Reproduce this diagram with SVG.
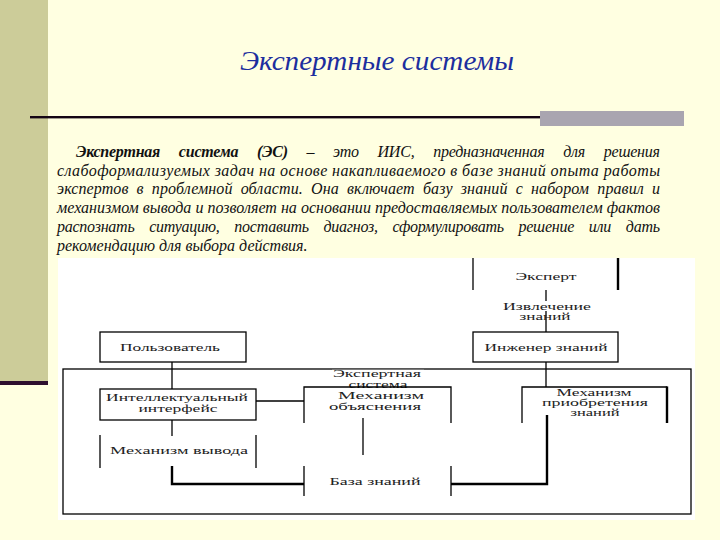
<svg xmlns="http://www.w3.org/2000/svg" width="720" height="540" viewBox="0 0 720 540">
<style>
.para{font-family:"Liberation Serif","Times New Roman","Tinos","DejaVu Serif",serif;font-style:italic;font-size:16px;fill:#111}
.b{font-weight:bold}
.title{font-family:"Liberation Serif","Times New Roman","Tinos","DejaVu Serif",serif;font-style:italic;font-size:28px;fill:#1C2E9E}
.lbl{font-family:"Liberation Serif","Times New Roman","Tinos","DejaVu Serif",serif;font-size:10px;fill:#222;text-anchor:middle}
.box{fill:#fff;stroke:#000;stroke-width:1.3}
.ln{fill:none;stroke:#000;stroke-width:1.3}
.thick{fill:none;stroke:#000;stroke-width:2.4}
.mask{fill:#fff}
</style>
<rect width="720" height="540" fill="#FFFFE1"/>
<rect x="0" y="0" width="48" height="382" fill="#CCCC99"/>
<rect x="0" y="381" width="48" height="4" fill="#2E0F2E"/>
<text class="title" x="240" y="70" textLength="274" lengthAdjust="spacingAndGlyphs">Экспертные системы</text>
<rect x="30" y="116" width="512" height="2.4" fill="#140514"/>
<rect x="540" y="111" width="144" height="15" fill="#A9A5B0"/>

<text class="para" x="76" y="157" word-spacing="15" textLength="584" lengthAdjust="spacing"><tspan class="b">Экспертная система (ЭС)</tspan> – это ИИС, предназначенная для решения</text>
<text class="para" x="57" y="176" textLength="603" lengthAdjust="spacing">слабоформализуемых задач на основе накапливаемого в базе знаний опыта работы</text>
<text class="para" x="57" y="194" word-spacing="4" textLength="603" lengthAdjust="spacing">экспертов в проблемной области. Она включает базу знаний с набором правил и</text>
<text class="para" x="57" y="213" textLength="603" lengthAdjust="spacing">механизмом вывода и позволяет на основании предоставляемых пользователем фактов</text>
<text class="para" x="57" y="232" word-spacing="11" textLength="603" lengthAdjust="spacing">распознать ситуацию, поставить диагноз, сформулировать решение или дать</text>
<text class="para" x="57" y="251">рекомендацию для выбора действия.</text>

<rect x="58" y="258" width="637" height="262" fill="#fff"/>

<g id="expert-system">
<rect class="box" x="63" y="369" width="628" height="145"/>
<rect class="mask" x="332" y="369.8" width="92" height="19"/>
<text class="lbl" x="377" y="377" textLength="88" lengthAdjust="spacingAndGlyphs">Экспертная</text>
<text class="lbl" x="378" y="387.5" textLength="59" lengthAdjust="spacingAndGlyphs">система</text>
</g>

<g id="connectors">
<path class="ln" d="M546,290V332"/>
<path class="ln" d="M546,362V387"/>
<path class="ln" d="M172,362V389"/>
<path class="ln" d="M256,401H304"/>
<path class="ln" d="M172,420V436"/>
<path class="ln" d="M363,418V455"/>
<path class="thick" d="M172,466V484H304"/>
<path class="thick" d="M451,484H547V415"/>
<rect class="mask" x="502" y="301" width="90" height="10"/>
<text class="lbl" x="547" y="309.5" textLength="88" lengthAdjust="spacingAndGlyphs">Извлечение</text>
<text class="lbl" x="545" y="320" textLength="51" lengthAdjust="spacingAndGlyphs">знаний</text>
</g>

<g id="expert">
<path class="ln" d="M473,258V290"/>
<path class="thick" d="M618,258V290"/>
<text class="lbl" x="546" y="280" textLength="61" lengthAdjust="spacingAndGlyphs">Эксперт</text>
</g>

<g id="engineer">
<rect class="box" x="473" y="332" width="145" height="30"/>
<text class="lbl" x="546" y="351" textLength="123" lengthAdjust="spacingAndGlyphs">Инженер знаний</text>
</g>

<g id="user">
<rect class="box" x="100" y="332" width="146" height="30"/>
<text class="lbl" x="170" y="351" textLength="100" lengthAdjust="spacingAndGlyphs">Пользователь</text>
</g>

<g id="interface">
<rect class="box" x="100" y="389" width="156" height="31"/>
<text class="lbl" x="177" y="400.5" textLength="142" lengthAdjust="spacingAndGlyphs">Интеллектуальный</text>
<text class="lbl" x="178" y="411.5" textLength="79" lengthAdjust="spacingAndGlyphs">интерфейс</text>
</g>

<g id="explanation">
<path class="ln" d="M304,423V387H451V423"/>
<text class="lbl" x="381" y="398.5" textLength="86" lengthAdjust="spacingAndGlyphs">Механизм</text>
<text class="lbl" x="375" y="409.5" textLength="92" lengthAdjust="spacingAndGlyphs">объяснения</text>
</g>

<g id="acquisition">
<path class="ln" d="M522,423V387H667"/>
<path class="thick" d="M667,386.4V423"/>
<text class="lbl" x="594" y="395.5" textLength="75" lengthAdjust="spacingAndGlyphs">Механизм</text>
<text class="lbl" x="595" y="405.5" textLength="106" lengthAdjust="spacingAndGlyphs">приобретения</text>
<text class="lbl" x="595" y="415.5" textLength="49" lengthAdjust="spacingAndGlyphs">знаний</text>
</g>

<g id="inference">
<path class="ln" d="M100,435V468"/>
<path class="ln" d="M256,435V468"/>
<text class="lbl" x="179" y="453.5" textLength="138" lengthAdjust="spacingAndGlyphs">Механизм вывода</text>
</g>

<g id="knowledge-base">
<path class="ln" d="M304,466V496"/>
<path class="ln" d="M451,466V496"/>
<text class="lbl" x="375" y="484.5" textLength="91" lengthAdjust="spacingAndGlyphs">База знаний</text>
</g>
</svg>
